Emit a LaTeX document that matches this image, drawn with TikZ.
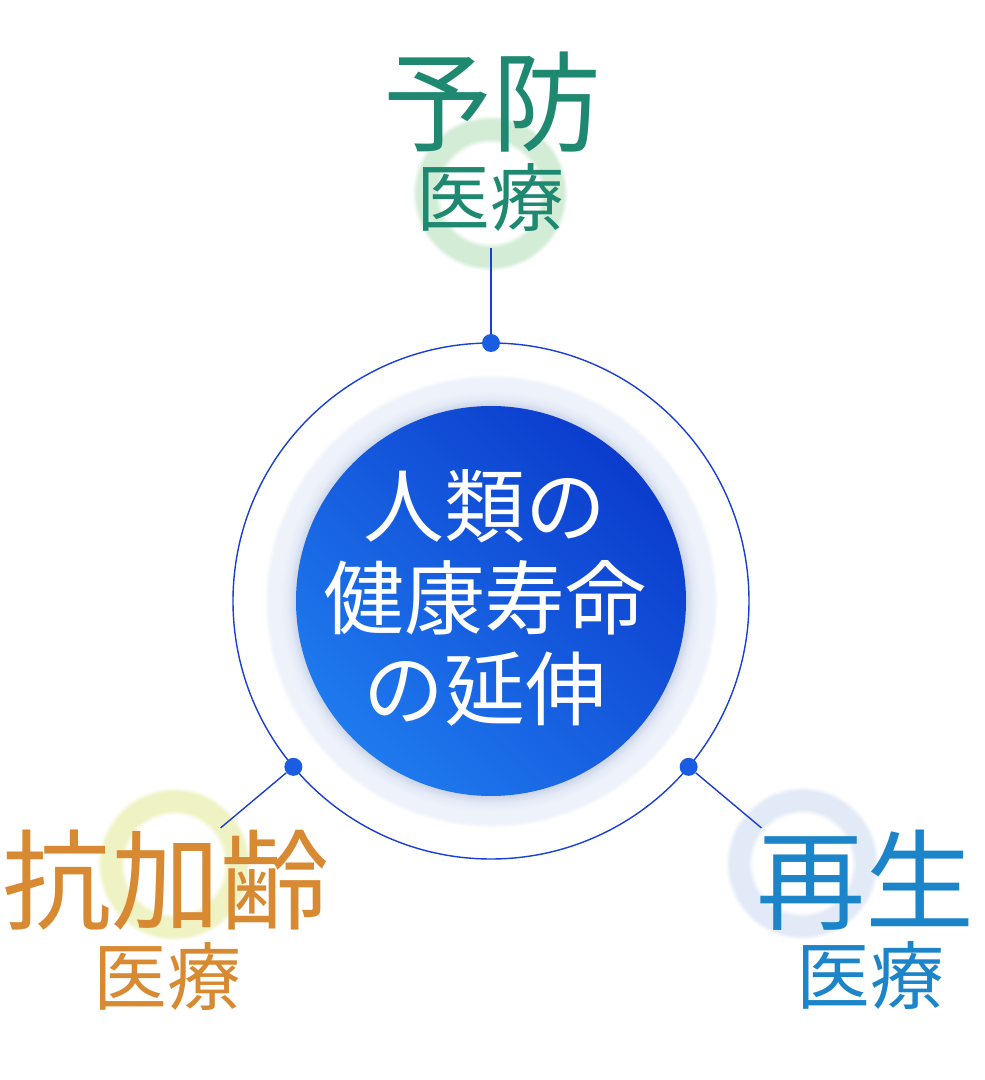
\documentclass[tikz,border=0pt]{standalone}
\usepackage{fontspec}
\newfontfamily\cjk{Noto Sans CJK JP}
\usepackage{tikz}
\usetikzlibrary{calc}
\usetikzlibrary{positioning}

\definecolor{yobogreen}{HTML}{1E8870}
\definecolor{kareiorange}{HTML}{D88A33}
\definecolor{saiseiblue}{HTML}{1C84C8}
\definecolor{linkblue}{HTML}{1A3ED6}
\definecolor{dotblue}{HTML}{1A5CE2}
\definecolor{diskdark}{HTML}{0B3CCD}
\definecolor{disklight}{HTML}{1F7AEE}
\definecolor{haloin}{HTML}{CDD5E8}
\definecolor{halomid}{HTML}{E4EAF6}
\definecolor{haloout}{HTML}{EEF2FA}
\definecolor{ringgreen}{HTML}{D2ECD6}
\definecolor{ringyellow}{HTML}{EFF2C2}
\definecolor{ringblue}{HTML}{E3EAF7}

\pgfdeclareradialshading{halo}{\pgfpoint{0bp}{0bp}}{color(0bp)=(haloin); color(21.5bp)=(haloin); color(22.3bp)=(halomid); color(23.2bp)=(haloout); color(24.5bp)=(haloout); color(25bp)=(white); color(50bp)=(white)}
\pgfdeclareradialshading{ringG}{\pgfpoint{0bp}{0bp}}{color(0bp)=(white); color(15.8bp)=(white); color(17.6bp)=(ringgreen); color(23.4bp)=(ringgreen); color(25bp)=(white); color(50bp)=(white)}
\pgfdeclareradialshading{ringY}{\pgfpoint{0bp}{0bp}}{color(0bp)=(white); color(15.8bp)=(white); color(17.6bp)=(ringyellow); color(23.4bp)=(ringyellow); color(25bp)=(white); color(50bp)=(white)}
\pgfdeclareradialshading{ringB}{\pgfpoint{0bp}{0bp}}{color(0bp)=(white); color(15.8bp)=(white); color(17.6bp)=(ringblue); color(23.4bp)=(ringblue); color(25bp)=(white); color(50bp)=(white)}

\begin{document}
\begin{tikzpicture}[x=0.02cm,y=0.02cm,
  link/.style={draw=linkblue,line width=0.8pt},
  knot/.style={circle,fill=dotblue,inner sep=0pt,minimum size=0.36cm},
  big/.style={font=\cjk\fontsize{62}{62}\selectfont},
  small/.style={font=\cjk\fontsize{42}{42}\selectfont}]
  \useasboundingbox (0,0) rectangle (985,1080);
  \coordinate (c) at (491,479);
  \shade[shading=halo] (c) circle (227);
  \shade[top color=diskdark,bottom color=disklight,shading angle=-45] (c) circle (195);
  \shade[shading=ringG] (490,887) circle (78);
  \shade[shading=ringY] (174,216) circle (77);
  \shade[shading=ringB] (802,217) circle (77);

  \draw[link] (c) circle (258);
  \node[knot] (dtop) at ($(c)+(90:258)$) {};
  \node[knot] (dleft) at ($(c)+(220:258)$) {};
  \node[knot] (dright) at ($(c)+(320:258)$) {};
  \coordinate (etop) at ($(c)+(90:353)$);
  \coordinate (eleft) at ($(c)+(220:353)$);
  \coordinate (eright) at ($(c)+(320:353)$);
  \draw[link] (dtop) -- (etop);
  \draw[link] (dleft) -- (eleft);
  \draw[link] (dright) -- (eright);

  \node[big,text=yobogreen] (yobo) at (492,978) {予防};
  \node[small,text=yobogreen] (yoboiryo) at (490,882) {医療};

  \node[big,text=kareiorange] (karei) at (166,200) {抗加齢};
  \node[small,text=kareiorange] (kareiiryo) at (167,104) {医療};

  \node[big,text=saiseiblue] (saisei) at (865,200) {再生};
  \node[small,text=saiseiblue] (saiseiiryo) at (870,105) {医療};

  \node[align=center,font=\cjk\fontsize{46}{52}\selectfont,text=white] (jinrui) at (485,482)
    {人類の\\健康寿命\\の延伸};
\end{tikzpicture}
\end{document}
